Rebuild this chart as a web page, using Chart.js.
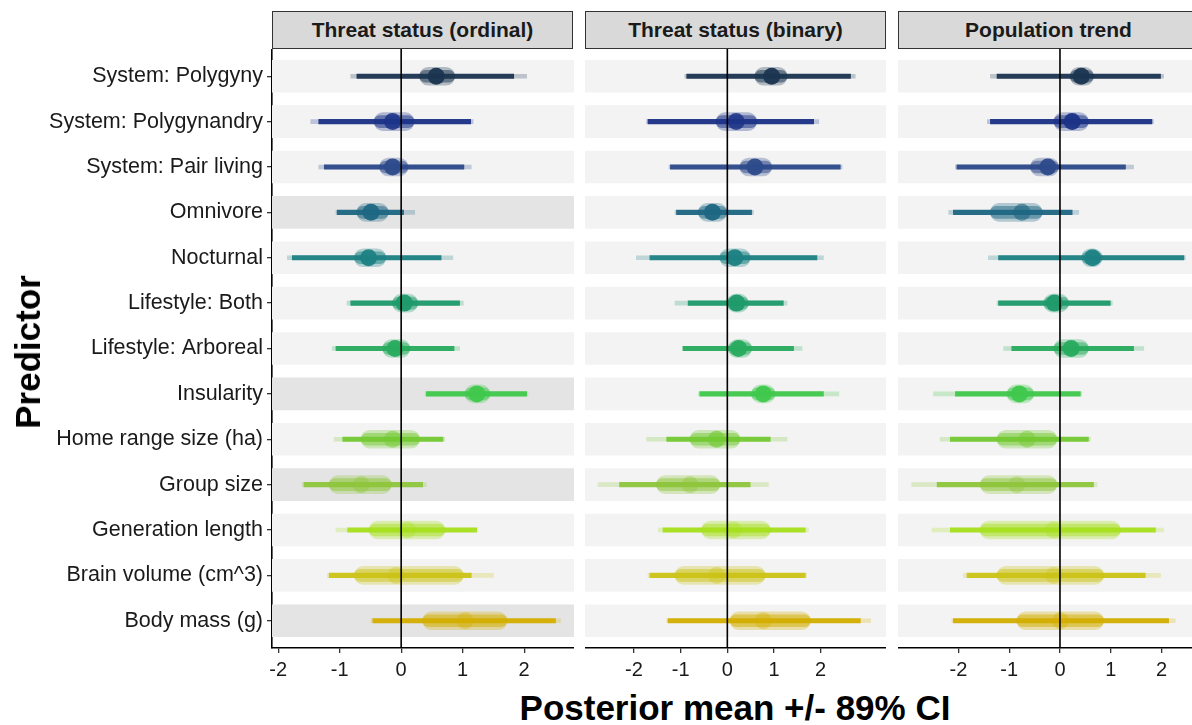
<!DOCTYPE html>
<html><head><meta charset="utf-8">
<script src="https://cdn.jsdelivr.net/npm/chart.js@4"></script>
<style>
html,body{margin:0;padding:0;background:#fff;width:1192px;height:725px;overflow:hidden;position:relative;font-family:"Liberation Sans",Arial,sans-serif;}
canvas{position:absolute;}
.strip{position:absolute;top:11px;height:38px;width:301px;background:#d9d9d9;border:1.3px solid #333;box-sizing:border-box;font-weight:bold;font-size:21px;color:#1a1a1a;display:flex;align-items:center;justify-content:center;}
#xtitle{position:absolute;left:335px;width:800px;top:688px;line-height:40px;text-align:center;font-weight:bold;font-size:35px;color:#000;}
#ytitle{position:absolute;left:28px;top:352px;transform:translate(-50%,-50%) rotate(-90deg);font-weight:bold;font-size:35px;color:#000;white-space:nowrap;}
</style></head>
<body>
<div class="strip" id="s0" style="left:272px"></div>
<div class="strip" id="s1" style="left:585px"></div>
<div class="strip" id="s2" style="left:898px"></div>
<canvas id="c0" width="574" height="639" style="left:0;top:49px"></canvas>
<canvas id="c1" width="301" height="639" style="left:585px;top:49px"></canvas>
<canvas id="c2" width="294" height="639" style="left:898px;top:49px"></canvas>
<div id="ytitle">Predictor</div>
<div id="xtitle">Posterior mean +/- 89% CI</div>
<script>
// ---------- data ----------
const predictors = ['System: Polygyny','System: Polygynandry','System: Pair living','Omnivore','Nocturnal',
  'Lifestyle: Both','Lifestyle: Arboreal','Insularity','Home range size (ha)','Group size',
  'Generation length','Brain volume (cm^3)','Body mass (g)'];
const panelTitles = ['Threat status (ordinal)','Threat status (binary)','Population trend'];
const xTickValues = [-2,-1,0,1,2];
const xMinByPanel = [-2.10,-3.05,-3.19];
const xMaxByPanel = [2.81,3.40,2.60];
const highlightOrdinal = [0,0,0,1,0,0,0,1,0,1,0,0,1];
const highlightBinary  = [0,0,0,0,0,0,0,0,0,0,0,0,0];
const highlightTrend   = [0,0,0,0,0,0,0,0,0,0,0,0,0];
const rowColors = ['#1b3550','#1c3387','#2d4a8a','#1f6783','#1e8183','#1f9a6b','#28ab5e','#40c84c','#74c934','#8ec63c','#a7df1f','#cbc417','#d3ae00'];

// Threat status (ordinal)
const ordMean    = [0.57,-0.14,-0.14,-0.49,-0.53,0.05,-0.10,1.23,-0.14,-0.65,0.10,-0.08,1.04];
const ordLo      = [-0.72,-1.34,-1.25,-1.04,-1.77,-0.82,-1.06,0.41,-0.95,-1.58,-0.87,-1.17,-0.46];
const ordHi      = [1.83,1.13,1.02,0.04,0.65,0.95,0.86,2.04,0.68,0.35,1.23,1.14,2.51];
const ordLoFaint = [-0.82,-1.47,-1.34,-1.06,-1.85,-0.88,-1.12,0.39,-1.09,-1.61,-1.06,-1.20,-0.49];
const ordHiFaint = [2.04,1.17,1.14,0.22,0.84,1.01,0.95,2.06,0.71,0.41,1.23,1.50,2.59];
const ordCloudLo = [0.30,-0.44,-0.35,-0.72,-0.76,-0.14,-0.30,1.04,-0.65,-1.17,-0.52,-0.76,0.35];
const ordCloudHi = [0.87,0.21,0.11,-0.21,-0.25,0.27,0.14,1.44,0.30,-0.16,0.71,1.01,1.72];

// Threat status (binary)
const binMean    = [0.95,0.19,0.59,-0.32,0.16,0.20,0.24,0.77,-0.23,-0.80,0.13,-0.23,0.77];
const binLo      = [-0.87,-1.70,-1.22,-1.09,-1.66,-0.84,-0.95,-0.59,-1.30,-2.31,-1.38,-1.66,-1.27];
const binHi      = [2.64,1.85,2.42,0.52,1.92,1.20,1.42,2.06,0.92,0.49,1.67,1.67,2.85];
const binLoFaint = [-0.91,-1.73,-1.25,-1.12,-1.95,-1.12,-0.96,-0.62,-1.73,-2.77,-1.48,-1.70,-1.30];
const binHiFaint = [2.74,1.96,2.46,0.56,2.06,1.28,1.60,2.39,1.28,0.88,1.74,1.70,3.07];
const binCloudLo = [0.59,-0.24,0.27,-0.62,-0.16,-0.01,0.02,0.52,-0.80,-1.52,-0.55,-1.12,0.06];
const binCloudHi = [1.28,0.63,0.95,-0.01,0.49,0.45,0.52,1.02,0.27,-0.16,0.92,0.81,1.78];

// Population trend
const trdMean    = [0.42,0.24,-0.24,-0.75,0.64,-0.11,0.22,-0.80,-0.65,-0.85,-0.12,-0.12,0.01];
const trdLo      = [-1.24,-1.37,-2.03,-2.10,-1.21,-1.21,-0.95,-2.06,-2.16,-2.42,-2.16,-1.83,-2.10];
const trdHi      = [1.98,1.81,1.29,0.24,2.44,0.99,1.45,0.40,0.56,0.66,1.88,1.68,2.14];
const trdLoFaint = [-1.37,-1.43,-2.06,-2.19,-1.41,-1.24,-1.11,-2.49,-2.36,-2.92,-2.52,-1.90,-2.13];
const trdHiFaint = [2.04,1.84,1.45,0.37,2.47,1.03,1.65,0.43,0.60,0.73,2.04,1.98,2.27];
const trdCloudLo = [0.20,-0.12,-0.58,-1.37,0.43,-0.32,-0.12,-1.04,-1.24,-1.57,-1.57,-1.24,-0.85];
const trdCloudHi = [0.66,0.56,-0.03,-0.35,0.83,0.17,0.56,-0.52,-0.06,-0.06,1.19,0.86,0.86];

// ---------- building ----------
const panels = [
  {mean:ordMean,lo:ordLo,hi:ordHi,loF:ordLoFaint,hiF:ordHiFaint,cLo:ordCloudLo,cHi:ordCloudHi,hl:highlightOrdinal},
  {mean:binMean,lo:binLo,hi:binHi,loF:binLoFaint,hiF:binHiFaint,cLo:binCloudLo,cHi:binCloudHi,hl:highlightBinary},
  {mean:trdMean,lo:trdLo,hi:trdHi,loF:trdLoFaint,hiF:trdHiFaint,cLo:trdCloudLo,cHi:trdCloudHi,hl:highlightTrend}
];
function rgba(hex,a){const n=parseInt(hex.slice(1),16);return `rgba(${n>>16},${(n>>8)&255},${n&255},${a})`;}
const FONT = '"Liberation Sans", Arial, sans-serif';

const zeroLine = {
  id:'zeroLine',
  afterDatasetsDraw(chart){
    const {ctx,chartArea,scales} = chart;
    const x = scales.x.getPixelForValue(0);
    ctx.save();ctx.strokeStyle='#000';ctx.lineWidth=1.6;
    ctx.beginPath();ctx.moveTo(x,chartArea.top);ctx.lineTo(x,chartArea.bottom);ctx.stroke();ctx.restore();
  }
};

panels.forEach((p,pi)=>{
  document.getElementById('s'+pi).textContent = panelTitles[pi];
  const xmin = xMinByPanel[pi], xmax = xMaxByPanel[pi];
  const rows = predictors.map((_,i)=>i+1);
  const bar = (data,colors,thick,order,extra)=>Object.assign({
    type:'bar',indexAxis:'y',grouped:false,data,backgroundColor:colors,borderWidth:0,
    barThickness:thick,order,xAxisID:'x',yAxisID:'y'},extra||{});
  const datasets = [
    bar(rows.map((r,i)=>({x:[xmin,xmax],y:r})), p.hl.map(h=>h?'#e4e4e4':'#f3f3f3'), 32, 6),
    bar(rows.map((r,i)=>({x:[p.loF[i],p.hiF[i]],y:r})), rowColors.map(c=>rgba(c,0.25)), 4, 5),
    bar(rows.map((r,i)=>({x:[p.lo[i],p.hi[i]],y:r})), rowColors.map(c=>rgba(c,0.95)), 4.5, 4),
    bar(rows.map((r,i)=>({x:[p.cLo[i],p.cHi[i]],y:r})), rowColors.map(c=>rgba(c,0.3)), 18, 3,
        {borderRadius:9,borderSkipped:false}),
    bar(rows.map((r,i)=>({x:[p.cLo[i],p.cHi[i]],y:r})), rowColors.map(c=>rgba(c,0.5)), 12, 2,
        {borderRadius:6,borderSkipped:false}),
    {type:'scatter',data:rows.map((r,i)=>({x:p.mean[i],y:r})),order:1,xAxisID:'x',yAxisID:'y',
     pointRadius:8.5,pointBorderWidth:0,pointHoverRadius:8.5,
     pointBackgroundColor:(ctx)=>{
       const i=ctx.dataIndex; const sx=ctx.chart.scales.x;
       if(!sx||i===undefined) return rowColors[0];
       const w=Math.abs(sx.getPixelForValue(p.cHi[i])-sx.getPixelForValue(p.cLo[i]));
       const a=Math.max(0.35,Math.min(0.95,0.95-(w-36)/50));
       return rgba(rowColors[i],a);
     }}
  ];
  new Chart(document.getElementById('c'+pi),{
    type:'bar',
    data:{datasets},
    plugins:[zeroLine],
    options:{
      responsive:false,animation:false,
      layout:{padding:0,autoPadding:false},
      plugins:{legend:{display:false},tooltip:{enabled:false}},
      events:[],
      scales:{
        x:{type:'linear',min:xmin,max:xmax,offset:false,
           afterBuildTicks:(s)=>{s.ticks=xTickValues.map(v=>({value:v}));},
           afterFit:(s)=>{s.height=40;s.paddingLeft=0;s.paddingRight=0;},
           ticks:{includeBounds:false,color:'#1a1a1a',font:{family:FONT,size:20},padding:5,maxRotation:0,autoSkip:false},
           grid:{display:true,offset:false,drawOnChartArea:false,drawTicks:true,tickLength:5,color:'#333',lineWidth:1.3},
           border:{display:true,color:'#000',width:1.6}},
        y:{type:'linear',reverse:true,min:0.4,max:13.6,offset:false,display:pi===0,
           afterBuildTicks:(s)=>{s.ticks=rows.map(v=>({value:v}));},
           afterFit:(s)=>{if(pi===0) s.width=272; s.paddingTop=0; s.paddingBottom=0;},
           ticks:{color:'#1a1a1a',font:{family:FONT,size:21.5},padding:4,autoSkip:false,
                  callback:(v)=>predictors[Math.round(v)-1]},
           grid:{display:true,offset:false,drawOnChartArea:false,drawTicks:true,tickLength:5,color:'#333',lineWidth:1.3},
           border:{display:true,color:'#000',width:1.6}}
      }
    }
  });
});
</script>
</body></html>
